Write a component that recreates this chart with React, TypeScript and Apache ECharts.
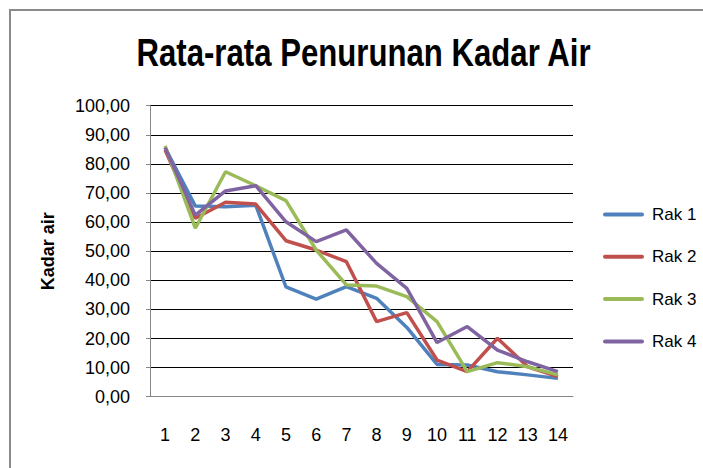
import React, { useEffect, useRef } from "react";
import * as echarts from "echarts";

const categories = ["1", "2", "3", "4", "5", "6", "7", "8", "9", "10", "11", "12", "13", "14"];
const rak1 = [85.5, 65.5, 65.3, 65.8, 37.7, 33.5, 37.8, 33.8, 23.8, 11.1, 10.9, 8.6, 7.5, 6.3];
const rak2 = [84.8, 61.3, 66.8, 66.2, 53.6, 50.4, 46.4, 25.8, 28.9, 12.6, 8.6, 20.1, 10.3, 6.9];
const rak3 = [86.2, 57.9, 77.3, 72.5, 67.4, 50.4, 38.4, 38.0, 34.4, 25.8, 8.6, 11.7, 10.3, 7.5];
const rak4 = [85.6, 62.4, 70.7, 72.5, 60.1, 53.3, 57.3, 45.8, 37.2, 18.6, 24.1, 16.0, 12.0, 8.6];
const seriesNames = ["Rak 1", "Rak 2", "Rak 3", "Rak 4"];
const colors = ["#4F81BD", "#C0504D", "#9BBB59", "#8064A2"];
const titleText = "Rata-rata Penurunan Kadar Air";
const yAxisName = "Kadar air";

const FONT = "'Liberation Sans', Arial, sans-serif";

export default function App() {
  const ref = useRef<HTMLDivElement>(null);
  useEffect(() => {
    if (!ref.current) return;
    const chart = echarts.init(ref.current, null, { renderer: "svg" });
    const data = [rak1, rak2, rak3, rak4];
    chart.setOption({
      animation: false,
      backgroundColor: "#fff",
      graphic: [
        {
          type: "rect",
          shape: { x: 10, y: 10, width: 900, height: 700 },
          style: { fill: "none", stroke: "#8a8a8a", lineWidth: 2 },
          silent: true,
        },
        {
          type: "text",
          x: 363.5,
          y: 53,
          scaleX: 0.82,
          style: {
            x: 0,
            y: 0,
            text: titleText,
            align: "center",
            verticalAlign: "middle",
            fontFamily: FONT,
            fontSize: 38,
            fontWeight: "bold",
            fill: "#000",
          },
          silent: true,
        },
      ],
      legend: {
        orient: "vertical",
        left: 598,
        top: 201,
        itemGap: 25.3,
        itemWidth: 41,
        itemHeight: 18,
        icon: "path://M2,0 L39,0 A2,2 0 0 1 39,4 L2,4 A2,2 0 0 1 2,0 Z",
        textStyle: { fontFamily: FONT, fontSize: 17, color: "#000", padding: [0, 0, 0, 3] },
        data: seriesNames,
      },
      grid: { left: 150, right: 130, top: 105.7, bottom: 71.3, containLabel: false },
      xAxis: {
        type: "category",
        data: categories,
        boundaryGap: true,
        axisLine: { lineStyle: { color: "#868686", width: 1 } },
        axisTick: { show: false },
        axisLabel: { fontFamily: FONT, fontSize: 18, color: "#000", margin: 29 },
      },
      yAxis: {
        type: "value",
        min: 0,
        max: 100,
        interval: 10,
        name: yAxisName,
        nameLocation: "middle",
        nameGap: 93,
        nameTextStyle: { fontFamily: FONT, fontSize: 18, fontWeight: "bold", color: "#000" },
        axisLine: { show: true, lineStyle: { color: "#868686", width: 1 } },
        axisTick: { show: true, inside: false, length: 4, lineStyle: { color: "#868686" } },
        splitLine: { lineStyle: { color: "#000", width: 1 } },
        axisLabel: {
          fontFamily: FONT,
          fontSize: 18,
          color: "#000",
          margin: 20,
          formatter: (v: number) => v.toFixed(2).replace(".", ","),
        },
      },
      series: data.map((d, i) => ({
        name: seriesNames[i],
        type: "line",
        data: d,
        symbol: "none",
        lineStyle: { color: colors[i], width: 3.5 },
        itemStyle: { color: colors[i] },
      })),
    });
    return () => chart.dispose();
  }, []);
  return <div ref={ref} style={{ width: 703, height: 468, position: "absolute", left: 0, top: 0 }} />;
}
